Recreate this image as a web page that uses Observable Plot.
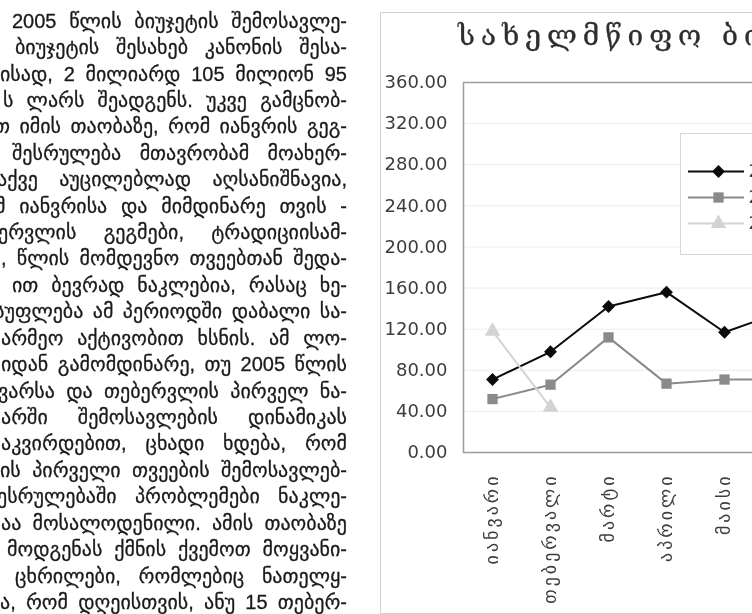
<!DOCTYPE html>
<html><head><meta charset="utf-8">
<script src="https://cdn.jsdelivr.net/npm/d3@7"></script>
<script src="https://cdn.jsdelivr.net/npm/@observablehq/plot@0.6"></script>
<style>
html,body{margin:0;padding:0;width:752px;height:614px;overflow:hidden;background:#fff;position:relative;}
#page{position:absolute;left:0;top:0;width:752px;height:614px;overflow:hidden;filter:blur(0.35px);}
#text{position:absolute;left:0;top:0;width:348px;height:614px;overflow:hidden;font-family:"Liberation Sans","DejaVu Sans",sans-serif;font-size:20px;color:#1a1a1a;-webkit-text-stroke:0.3px #1a1a1a;}
.ln{position:absolute;white-space:nowrap;line-height:26px;}
#box{position:absolute;left:380px;top:12px;width:420px;height:600px;border:1px solid #d2d2d2;}
#chart{position:absolute;left:380px;top:12px;width:779px;height:601px;}
#chart svg, #legend svg{max-width:none;}
#title{position:absolute;left:458px;top:19px;font-family:"DejaVu Serif","DejaVu Sans",serif;font-size:28px;letter-spacing:6px;color:#2e2e2e;white-space:nowrap;-webkit-text-stroke:0.3px #2e2e2e;}
#legend{position:absolute;left:680px;top:133px;width:200px;height:120px;border:1px solid #d6d6d6;background:#fff;}
</style></head><body>
<div id="page">
<div id="text"></div>
<div id="box"></div>
<div id="title">სახელმწიფო ბიუჯეტის შემოსავლები</div>
<div id="chart"></div>
<div id="legend"></div>
</div>
<script>
// ---- data ----
const months = ["იანვარი","თებერვალი","მარტი","აპრილი","მაისი","ივნისი","ივლისი","აგვისტო","სექტემბერი","ოქტომბერი","ნოემბერი","დეკემბერი"];
const seriesNames = ["2003","2004","2005"];
const values2003 = [71, 98, 142, 156, 117, 137];
const values2004 = [52, 66, 112, 67, 71, 71];
const values2005 = [118, 44];
const yTicks = [0, 40, 80, 120, 160, 200, 240, 280, 320, 360];
const seriesColors = ["#0a0a0a", "#8a8a8a", "#d3d3d3"];
const seriesSymbols = ["diamond2", "square", "triangle"];

const bodyLines = [
 "2005 წლის ბიუჯეტის შემოსავლე-",
 "ბიუჯეტის შესახებ კანონის შესა-",
 "ისად, 2 მილიარდ 105 მილიონ 95",
 "ს ლარს შეადგენს. უკვე გამცნობ-",
 "თ იმის თაობაზე, რომ იანვრის გეგ-",
 "შესრულება მთავრობამ მოახერ-",
 "აქვე აუცილებლად აღსანიშნავია,",
 "მ იანვრისა და მიმდინარე თვის -",
 "ერვლის გეგმები, ტრადიციისამ-",
 ", წლის მომდევნო თვეებთან შედა-",
 "ით ბევრად ნაკლებია, რასაც ხე-",
 "სუფლება ამ პერიოდში დაბალი სა-",
 "არმეო აქტივობით ხსნის. ამ ლო-",
 "იდან გამომდინარე, თუ 2005 წლის",
 "ვარსა და თებერვლის პირველ ნა-",
 "არში შემოსავლების დინამიკას",
 "აკვირდებით, ცხადი ხდება, რომ",
 "ის პირველი თვეების შემოსავლებ-",
 "ესრულებაში პრობლემები ნაკლე-",
 "აა მოსალოდენილი. ამის თაობაზე",
 "მოდგენას ქმნის ქვემოთ მოყვანი-",
 "ცხრილები, რომლებიც ნათელყ-",
 "ა, რომ დღეისთვის, ანუ 15 თებერ-"
];
const bodyStarts = [12,15,0,3,-6,12,-3,-5,-2,1,12,-6,1,1,-2,1,1,0,-3,1,7,15,0];

// ---- body text (justified to the column edge) ----
const textEl = document.getElementById("text");
const colRight = 347;
bodyLines.forEach((s, i) => {
  const d = document.createElement("div");
  d.className = "ln";
  d.textContent = s;
  d.style.left = bodyStarts[i] + "px";
  d.style.top = (20.7 + i * 26.42 - 13) + "px";
  textEl.appendChild(d);
  const w = d.getBoundingClientRect().width;
  const avail = colRight - bodyStarts[i];
  const n = (s.match(/ /g) || []).length;
  if (n > 0) d.style.wordSpacing = ((avail - w) / n) + "px";
});

// ---- chart rows ----
const rows = [];
[values2003, values2004, values2005].forEach((vals, k) => {
  vals.forEach((v, j) => rows.push({series: seriesNames[k], month: months[j], value: v}));
});

const chart = Plot.plot({
  width: 779, height: 601,
  marginLeft: 83, marginRight: 0, marginTop: 70, marginBottom: 161,
  style: {fontFamily: "Liberation Sans, DejaVu Sans, sans-serif", fontSize: "18px", color: "#3c3c3c", background: "transparent", overflow: "visible"},
  x: {type: "point", domain: months, padding: 0.5, label: null},
  y: {domain: [0, 360], label: null},
  color: {domain: seriesNames, range: seriesColors},
  symbol: {domain: seriesNames, range: seriesSymbols},
  marks: [
    Plot.gridY(yTicks, {stroke: "#ececec", strokeOpacity: 1}),
    Plot.frame({stroke: "#9c9c9c", strokeWidth: 1.5}),
    Plot.axisY(yTicks, {tickSize: 0, tickPadding: 16, tickFormat: d3.format(".2f"), fontSize: 18, fontFamily: "DejaVu Sans", label: null}),
    Plot.axisX(months, {tickSize: 0, tickPadding: 21, tickRotate: -90, fontSize: 18, fontFamily: "DejaVu Sans", label: null}),
    Plot.line(rows, {x: "month", y: "value", z: "series", stroke: "series", strokeWidth: 2}),
    Plot.dot(rows, {x: "month", y: "value", symbol: "series", fill: "series", r: 5.8})
  ]
});
chart.querySelectorAll("g[aria-label='x-axis tick label'] text").forEach(t => t.setAttribute("letter-spacing", "3"));
document.getElementById("chart").appendChild(chart);

// ---- legend (inside plot area, as in the reference) ----
const legend = Plot.plot({
  width: 200, height: 120, margin: 0,
  style: {fontFamily: "DejaVu Sans, sans-serif", fontSize: "18px", color: "#3c3c3c", background: "transparent"},
  x: {domain: [0, 200], range: [0, 200], axis: null},
  y: {type: "point", domain: seriesNames, range: [23, 102], axis: null},
  color: {domain: seriesNames, range: seriesColors},
  symbol: {domain: seriesNames, range: seriesSymbols},
  marks: [
    Plot.ruleY(seriesNames, {y: d => d, x1: 7, x2: 63, stroke: d => d, strokeWidth: 2}),
    Plot.dot(seriesNames, {x: 37, y: d => d, symbol: d => d, fill: d => d, r: 5.8}),
    Plot.text(seriesNames, {x: 67, y: d => d, text: d => d, textAnchor: "start", fill: "#3c3c3c"})
  ]
});
document.getElementById("legend").appendChild(legend);
</script>
</body></html>
